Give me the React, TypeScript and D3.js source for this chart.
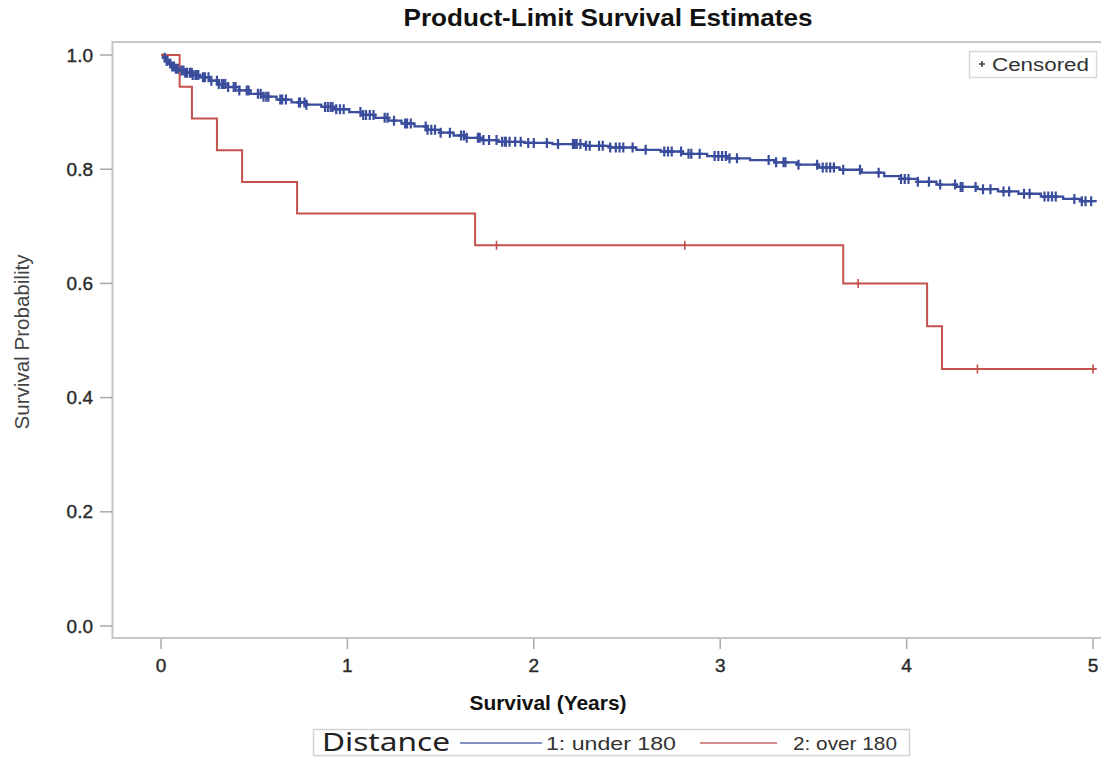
import React from "react";
import * as d3 from "d3";

// Kaplan-Meier step points (time in years, survival probability)
const underTimes = [0, 0.012, 0.025, 0.04, 0.06, 0.08, 0.1, 0.13, 0.17, 0.21, 0.26, 0.31, 0.36, 0.42, 0.48, 0.55, 0.62, 0.7, 0.78, 0.86, 0.93, 1.01, 1.08, 1.15, 1.22, 1.29, 1.36, 1.43, 1.5, 1.57, 1.64, 1.72, 1.81, 1.95, 2.1, 2.27, 2.41, 2.55, 2.68, 2.8, 2.93, 3.04, 3.16, 3.29, 3.41, 3.53, 3.64, 3.76, 3.88, 3.97, 4.06, 4.16, 4.27, 4.38, 4.49, 4.6, 4.72, 4.84, 4.93];
const underSurv = [1, 0.995, 0.99, 0.985, 0.98, 0.976, 0.973, 0.969, 0.965, 0.961, 0.955, 0.949, 0.944, 0.938, 0.932, 0.927, 0.922, 0.917, 0.913, 0.909, 0.905, 0.9, 0.895, 0.89, 0.885, 0.88, 0.875, 0.869, 0.864, 0.859, 0.855, 0.851, 0.848, 0.846, 0.844, 0.841, 0.838, 0.834, 0.831, 0.827, 0.823, 0.819, 0.816, 0.812, 0.808, 0.803, 0.799, 0.794, 0.788, 0.783, 0.778, 0.773, 0.769, 0.765, 0.761, 0.757, 0.752, 0.748, 0.744];
const underCensored = [0.02, 0.03, 0.035, 0.05, 0.06, 0.07, 0.08, 0.09, 0.11, 0.12, 0.13, 0.14, 0.155, 0.165, 0.17, 0.185, 0.19, 0.2, 0.225, 0.236, 0.255, 0.27, 0.3, 0.31, 0.326, 0.335, 0.345, 0.36, 0.39, 0.4, 0.42, 0.46, 0.47, 0.52, 0.535, 0.55, 0.565, 0.576, 0.64, 0.65, 0.67, 0.74, 0.746, 0.77, 0.78, 0.88, 0.895, 0.91, 0.92, 0.94, 0.96, 0.98, 1.07, 1.085, 1.1, 1.12, 1.14, 1.2, 1.215, 1.25, 1.31, 1.32, 1.34, 1.42, 1.43, 1.45, 1.47, 1.5, 1.55, 1.61, 1.625, 1.64, 1.7, 1.71, 1.73, 1.76, 1.8, 1.83, 1.845, 1.85, 1.87, 1.9, 1.93, 1.97, 2.0, 2.07, 2.13, 2.21, 2.22, 2.23, 2.25, 2.28, 2.3, 2.35, 2.37, 2.41, 2.44, 2.46, 2.48, 2.53, 2.6, 2.7, 2.72, 2.74, 2.79, 2.83, 2.845, 2.89, 2.97, 2.99, 3.01, 3.03, 3.05, 3.09, 3.26, 3.3, 3.34, 3.35, 3.42, 3.52, 3.55, 3.57, 3.59, 3.61, 3.66, 3.75, 3.85, 3.97, 3.99, 4.01, 4.06, 4.12, 4.18, 4.26, 4.29, 4.3, 4.37, 4.41, 4.45, 4.52, 4.55, 4.63, 4.66, 4.74, 4.76, 4.78, 4.8, 4.9, 4.94, 4.96, 4.99];

const overTimes = [0, 0.1, 0.166, 0.3, 0.435, 0.73, 1.685, 3.66, 4.11, 4.19];
const overSurv = [1, 0.9444, 0.8889, 0.8333, 0.7778, 0.7222, 0.6667, 0.6, 0.525, 0.45];
const overCensored = [1.8, 2.81, 3.74, 4.38, 5.0];

const xTicks = [0, 1, 2, 3, 4, 5];
const yTicks = [0, 0.2, 0.4, 0.6, 0.8, 1.0];

const BLUE = "#3a4c9c";
const RED = "#c4524c";
const END_T = 5.02;

type Pt = [number, number];

function stepPoints(times: number[], surv: number[]): Pt[] {
  const pts: Pt[] = times.map((t, i) => [t, surv[i]] as Pt);
  pts.push([END_T, surv[surv.length - 1]]);
  return pts;
}

function survAt(times: number[], surv: number[], t: number): number {
  let v = surv[0];
  for (let i = 0; i < times.length; i++) if (times[i] <= t) v = surv[i];
  return v;
}

export default function App() {
  const W = 1101;
  const H = 757;
  const x = d3.scaleLinear().domain([0, 5]).range([161, 1093]);
  const y = d3.scaleLinear().domain([0, 1]).range([626, 55]);
  const line = d3
    .line<Pt>()
    .x((d) => x(d[0]))
    .y((d) => y(d[1]))
    .curve(d3.curveStepAfter);

  const sans = "'Liberation Sans', Arial, sans-serif";
  const narrow = "'Liberation Sans Narrow', 'Liberation Sans', Arial, sans-serif";

  const plus = (cx: number, cy: number, h: number, w: number, color: string, key: string, sw: number) => (
    <path
      key={key}
      d={`M${cx - w},${cy}H${cx + w}M${cx},${cy - h}V${cy + h}`}
      stroke={color}
      strokeWidth={sw}
      fill="none"
    />
  );

  return (
    <svg
      width={W}
      height={H}
      style={{ position: "absolute", left: 0, top: 0, background: "#fff" }}
      fontFamily={sans}
    >
      <rect x={0} y={0} width={W} height={H} fill="#fff" />
      {/* title */}
      <text x={608} y={26} textAnchor="middle" fontSize={23} fontWeight="bold" fill="#111" textLength={409} lengthAdjust="spacingAndGlyphs">
        Product-Limit Survival Estimates
      </text>

      {/* plot frame */}
      <rect x={112.5} y={42} width={1010} height={596} fill="none" stroke="#c6c6c6" strokeWidth={2} />

      {/* y axis */}
      {yTicks.map((v) => (
        <g key={`y${v}`}>
          <line x1={100} x2={112} y1={y(v)} y2={y(v)} stroke="#a8a8a8" strokeWidth={1.5} />
          <text x={93} y={y(v) + 6.5} textAnchor="end" fontSize={19} fill="#2a2a2a" stroke="#2a2a2a" strokeWidth={0.4}>
            {v.toFixed(1)}
          </text>
        </g>
      ))}
      <text
        transform={`translate(29,342) rotate(-90)`}
        textAnchor="middle"
        fontSize={20}
        fill="#444"
        textLength={175}
        lengthAdjust="spacingAndGlyphs"
      >
        Survival Probability
      </text>

      {/* x axis */}
      {xTicks.map((t) => (
        <g key={`x${t}`}>
          <line x1={x(t)} x2={x(t)} y1={639} y2={649} stroke="#a8a8a8" strokeWidth={1.5} />
          <text x={x(t)} y={672} textAnchor="middle" fontSize={19} fill="#2a2a2a" stroke="#2a2a2a" strokeWidth={0.4}>
            {t}
          </text>
        </g>
      ))}
      <text x={548} y={710} textAnchor="middle" fontSize={21} fontWeight="bold" fontFamily={narrow} fill="#111" textLength={157} lengthAdjust="spacingAndGlyphs">
        Survival (Years)
      </text>

      {/* survival curves */}
      <path d={line(stepPoints(underTimes, underSurv)) || ""} fill="none" stroke={BLUE} strokeWidth={2.3} />
      <path d={line(stepPoints(overTimes, overSurv)) || ""} fill="none" stroke={RED} strokeWidth={2} />

      {/* censoring marks */}
      {underCensored.map((t, i) => plus(x(t), y(survAt(underTimes, underSurv, t)), 5, 3, BLUE, `bc${i}`, 2.2))}
      {overCensored.map((t, i) => plus(x(t), y(survAt(overTimes, overSurv, t)), 4.5, 2, RED, `rc${i}`, 1.6))}

      {/* censored legend */}
      <rect x={969.5} y={51.5} width={127} height={26} fill="#fff" stroke="#d8d8d8" strokeWidth={1.5} />
      {plus(982, 64, 3, 3, "#444", "lg", 1.6)}
      <text x={992} y={71} fontSize={18} fill="#333" textLength={97} lengthAdjust="spacingAndGlyphs">
        Censored
      </text>

      {/* group legend */}
      <rect x={313.5} y={729.5} width={596} height={26} fill="#fff" stroke="#d4d4d4" strokeWidth={1.5} />
      <text x={322} y={751} fontSize={25} fill="#222" fontFamily="'Noto Sans', 'Open Sans', sans-serif" textLength={128} lengthAdjust="spacingAndGlyphs">
        Distance
      </text>
      <line x1={460} x2={542} y1={743} y2={743} stroke="#8390c4" strokeWidth={2} />
      <text x={546} y={750} fontSize={19} fill="#333" textLength={130} lengthAdjust="spacingAndGlyphs">
        1: under 180
      </text>
      <line x1={700} x2={777} y1={743} y2={743} stroke="#d28a8a" strokeWidth={2} />
      <text x={793} y={750} fontSize={19} fill="#333" textLength={104} lengthAdjust="spacingAndGlyphs">
        2: over 180
      </text>
    </svg>
  );
}
